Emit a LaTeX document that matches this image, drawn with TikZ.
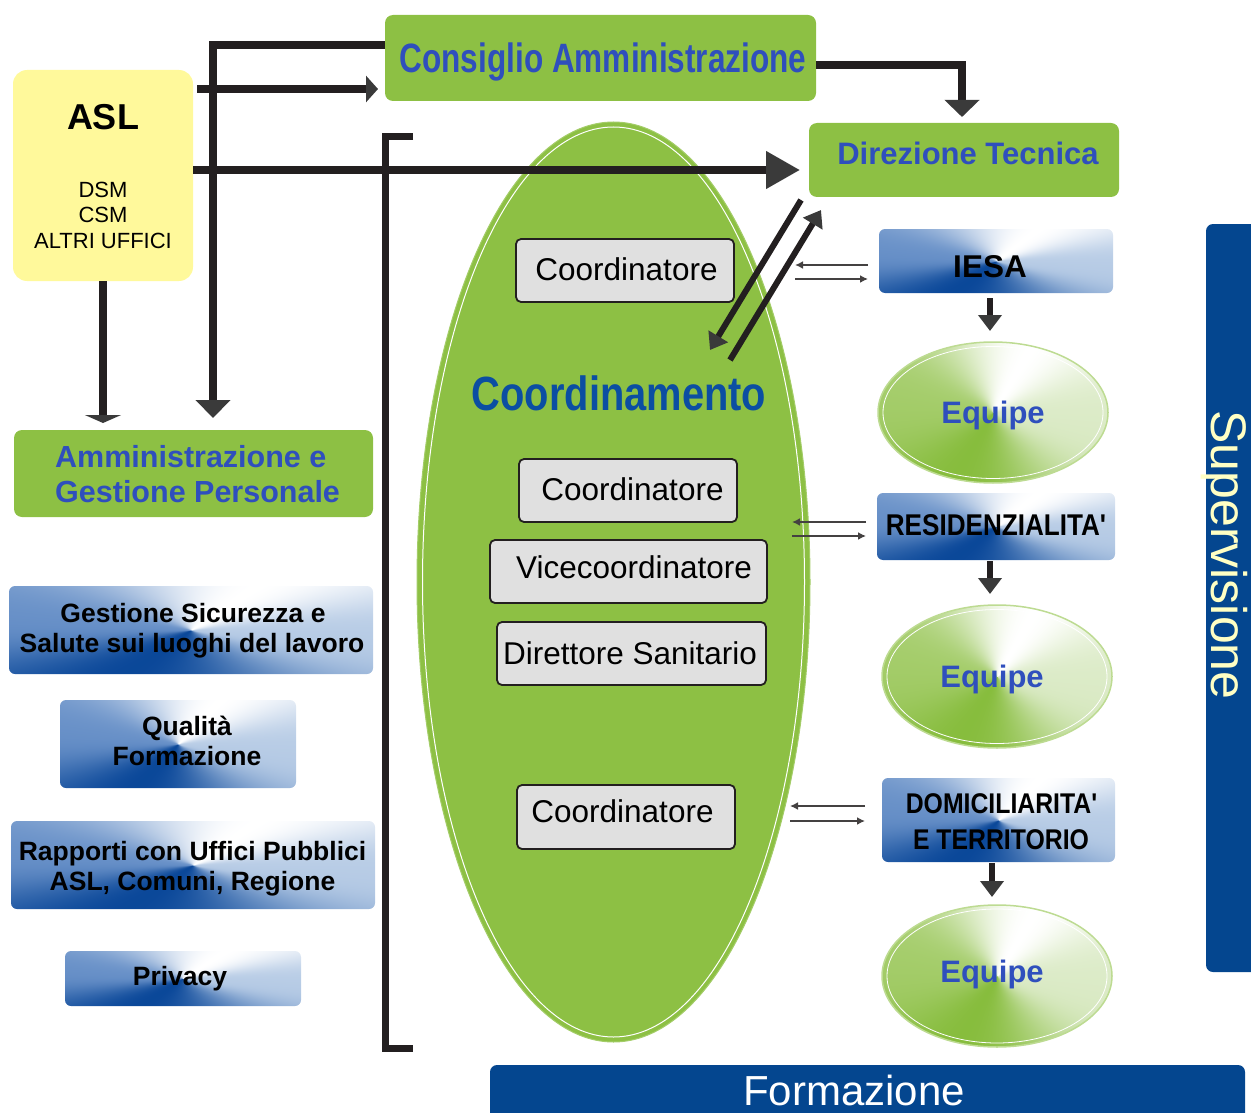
\documentclass[tikz,border=0pt]{standalone}
\usepackage{fontspec}
\setmainfont{Liberation Sans}
\usepackage{graphicx}
\usetikzlibrary{arrows.meta,shapes.geometric,calc}
\definecolor{gr}{HTML}{8DC044}
\definecolor{tb}{HTML}{2F4FBD}
\definecolor{cb}{HTML}{0B4EA2}
\definecolor{yl}{HTML}{FFF99B}
\definecolor{dk}{HTML}{231F20}
\definecolor{hd}{HTML}{3A3A3A}
\definecolor{barblue}{HTML}{04468F}
\definecolor{gb}{HTML}{E0E0E0}
\definecolor{eqA}{HTML}{A0CC64}
\definecolor{sv}{HTML}{FFFFC4}
% conic-like shadings: left-right base colour, a white lobe towards the top
% and a dark lobe towards the bottom, seen from the centre
\pgfdeclarefunctionalshading{bluecone}{\pgfpoint{-50bp}{-50bp}}{\pgfpoint{50bp}{50bp}}{}{
  2 copy dup mul exch dup mul add sqrt 0.001 add
  exch 1 index div 3 1 roll div
  1 index 0.94 mul 1 index 0.34 mul add
  dup abs 1 index add 2 div 4 exp
  exch dup abs exch sub 2 div 3 exp
  1 2 index sub 1 index sub
  3 index 0.16 mul 0.56 add 1 index mul 3 index 1.0 mul add 2 index 0.04 mul add
  4 index 0.12 mul 0.68 add 2 index mul 4 index 1.0 mul add 3 index 0.28 mul add
  5 index 0.06 mul 0.84 add 3 index mul 5 index 1.0 mul add 4 index 0.60 mul add
  8 3 roll pop pop pop pop pop
}
\pgfdeclarefunctionalshading{greencone}{\pgfpoint{-50bp}{-50bp}}{\pgfpoint{50bp}{50bp}}{}{
  2 copy dup mul exch dup mul add sqrt 0.001 add
  exch 1 index div 3 1 roll div
  1 index 0.94 mul 1 index 0.34 mul add
  dup abs 1 index add 2 div 4 exp
  exch dup abs exch sub 2 div 3 exp
  1 2 index sub 1 index sub
  3 index 0.11 mul 0.75 add 1 index mul 3 index 1.0 mul add 2 index 0.53 mul add
  4 index 0.06 mul 0.86 add 2 index mul 4 index 1.0 mul add 3 index 0.74 mul add
  5 index 0.185 mul 0.595 add 3 index mul 5 index 1.0 mul add 4 index 0.24 mul add
  8 3 roll pop pop pop pop pop
}
\newcommand\fsz[1]{\fontsize{#1pt}{#1pt}\selectfont}
\begin{document}
\begin{tikzpicture}[x=1pt,y=-1pt,
  box/.style={inner sep=0pt, outer sep=0pt, anchor=center},
  greenbox/.style={box, fill=gr, rounded corners=8pt},
  bluebox/.style={box, shade, shading=bluecone, rounded corners=6pt},
  graybox/.style={box, fill=gb, draw=dk, line width=1.8pt, rounded corners=5pt},
  eqell/.style={box, ellipse, shade, shading=greencone, draw=eqA!70, line width=1.5pt},
  lbl/.style={anchor=base, inner sep=0pt},
  blk/.style={draw=dk, line width=7.5pt},
  diag/.style={draw=dk, line width=6pt},
  thinarr/.style={draw=dk!85, line width=2.5pt, -{Latex[length=8pt,width=8pt]}},
  downarr/.style={draw=dk, line width=6pt, -{Triangle[width=23pt,length=16pt,color=hd]}},
]
\useasboundingbox (0,0) rectangle (1251,1113);

% central ellipse
\node[box, ellipse, fill=gr, draw=gr!80!white, line width=1pt, minimum width=393pt, minimum height=920pt] (cen) at (613.5,582) {};
\draw[white, line width=1pt] (cen.center) ellipse [x radius=191, y radius=455];

% bracket
\draw[dk, line width=7pt] (413,137) -- (385.5,137) -- (385.5,1048) -- (413,1048);

% boxes
\node[box, fill=yl, rounded corners=14pt, minimum width=180pt, minimum height=211pt] (asl) at (103,175.5) {};
\node[greenbox, minimum width=431pt, minimum height=86pt] (cons) at (600.5,58) {};
\node[greenbox, minimum width=310pt, minimum height=74pt] (dt) at (964,160) {};
\node[greenbox, minimum width=359pt, minimum height=87pt] (amm) at (193.5,473.5) {};
\node[bluebox, minimum width=364pt, minimum height=88pt] (ges) at (191,630) {};
\node[bluebox, minimum width=236pt, minimum height=88pt] (qua) at (178,744) {};
\node[bluebox, minimum width=364pt, minimum height=88pt] (rap) at (193,865) {};
\node[bluebox, minimum width=236pt, minimum height=55pt] (pri) at (183,978.5) {};
\node[bluebox, minimum width=234pt, minimum height=64pt] (iesa) at (996,261) {};
\node[bluebox, minimum width=238pt, minimum height=67pt] (res) at (996,526.5) {};
\node[bluebox, minimum width=233pt, minimum height=84pt] (dom) at (998.5,820) {};
\node[graybox, minimum width=218pt, minimum height=63pt] (c1) at (625,270.5) {};
\node[graybox, minimum width=218pt, minimum height=63pt] (c2) at (628,490.5) {};
\node[graybox, minimum width=277pt, minimum height=63pt] (vice) at (628.5,571.5) {};
\node[graybox, minimum width=269pt, minimum height=63pt] (dir) at (631.5,653.5) {};
\node[graybox, minimum width=218pt, minimum height=64pt] (c3) at (626,817) {};
\node[eqell, minimum width=230pt, minimum height=141pt] (eqa) at (993,412.5) {};
\node[eqell, minimum width=230pt, minimum height=143pt] (eqb) at (997,676.5) {};
\node[eqell, minimum width=230pt, minimum height=142pt] (eqc) at (997,976) {};
\draw[white, line width=0.8pt] (eqa.center) ellipse [x radius=110, y radius=66];
\draw[white, line width=0.8pt] (eqb.center) ellipse [x radius=110, y radius=67];
\draw[white, line width=0.8pt] (eqc.center) ellipse [x radius=110, y radius=67];
\node[box, fill=barblue, rounded corners=7pt, minimum width=60pt, minimum height=748pt] (sup) at (1236,598) {};
\node[box, fill=barblue, rounded corners=7pt, minimum width=755pt, minimum height=70pt] (form) at (867.5,1100) {};

% texts
\node[lbl, font=\bfseries\fsz{36}] (tasl) at (103,130) {ASL};
\node[lbl, font=\fsz{22}] (tdsm) at (103,197) {DSM};
\node[lbl, font=\fsz{22}] (tcsm) at (103,222.5) {CSM};
\node[lbl, font=\fsz{22}] (tuff) at (103,248) {ALTRI UFFICI};
\node[lbl, text=tb] (tcons) at (603,73) {\scalebox{0.77}[1]{\bfseries\fsz{41}Consiglio Amministrazione}};
\node[lbl, text=tb, font=\bfseries\fsz{31}] (tdt) at (968,165) {Direzione Tecnica};
\node[lbl, text=cb] (tcoord) at (619,410) {\scalebox{0.83}[1]{\bfseries\fsz{48}Coordinamento}};
\node[lbl, anchor=base west, text=tb, font=\bfseries\fsz{30.5}] (tamm1) at (55,467) {Amministrazione e};
\node[lbl, anchor=base west, text=tb, font=\bfseries\fsz{30.5}] (tamm2) at (55,502) {Gestione Personale};
\node[lbl, font=\bfseries\fsz{26.5}] (tges1) at (193,622) {Gestione Sicurezza e};
\node[lbl, font=\bfseries\fsz{26.5}] (tges2) at (192,652) {Salute sui luoghi del lavoro};
\node[lbl, font=\bfseries\fsz{26.5}] (tqua1) at (187,735) {Qualità};
\node[lbl, font=\bfseries\fsz{26.5}] (tqua2) at (187,765) {Formazione};
\node[lbl, font=\bfseries\fsz{26.5}] (trap1) at (192.5,860) {Rapporti con Uffici Pubblici};
\node[lbl, font=\bfseries\fsz{26.5}] (trap2) at (192.5,890) {ASL, Comuni, Regione};
\node[lbl, font=\bfseries\fsz{26.5}] (tpri) at (180,985) {Privacy};
\node[lbl, font=\bfseries\fsz{31.5}] (tiesa) at (990,277) {IESA};
\node[lbl] (tres) at (996,535) {\scalebox{0.87}[1]{\bfseries\fsz{30}RESIDENZIALITA\textquotesingle}};
\node[lbl] (tdom1) at (1001.5,813) {\scalebox{0.87}[1]{\bfseries\fsz{28.5}DOMICILIARITA\textquotesingle}};
\node[lbl] (tdom2) at (1001,849) {\scalebox{0.87}[1]{\bfseries\fsz{28.5}E TERRITORIO}};
\node[lbl, font=\fsz{31.5}] (tc1) at (626.5,280) {Coordinatore};
\node[lbl, font=\fsz{31.5}] (tc2) at (632.5,500) {Coordinatore};
\node[lbl, font=\fsz{31.5}] (tvice) at (634,578) {Vicecoordinatore};
\node[lbl, font=\fsz{31.5}] (tdir) at (630,664) {Direttore Sanitario};
\node[lbl, font=\fsz{31.5}] (tc3) at (622.5,822) {Coordinatore};
\node[lbl, text=tb, font=\bfseries\fsz{31}] (teqa) at (993,423) {Equipe};
\node[lbl, text=tb, font=\bfseries\fsz{31}] (teqb) at (992,687) {Equipe};
\node[lbl, text=tb, font=\bfseries\fsz{31}] (teqc) at (992,982) {Equipe};
\node[anchor=center, inner sep=0pt, rotate=-90, text=sv, font=\fsz{50}] (tsup) at (1224,555) {Supervisione};
\node[lbl, text=white, font=\fsz{42}] (tform) at (854,1105) {Formazione};

% connectors
\draw[blk, -{Triangle[width=26pt,length=12pt,color=hd]}] ($(asl.north east)+(4,19)$) -- ($(cons.west)+(-7,31)$);
\draw[blk, -{Triangle[width=34pt,length=18pt,color=hd]}] ($(cons.west)+(0,-13)$) -| ($(amm.north)+(19.5,-12)$);
\draw[blk, -{Triangle[width=36pt,length=34pt,color=hd]}] ($(asl.east)+(0,-5.5)$) -- ($(dt.west)+(-9,10)$);
\draw[blk, -{Triangle[width=36pt,length=8pt,color=hd]}] (asl.south) -- ($(amm.north)+(-90.5,-7)$);
\draw[blk, -{Triangle[width=34pt,length=17pt,color=hd]}] ($(cons.east)+(0,7)$) -| ($(dt.north)+(-2,-6)$);
\draw[diag, -{Triangle[width=22pt,length=16pt,color=hd]}] ($(dt.south west)+(-8,3)$) -- ($(dt.south west)+(-99,153)$);
\draw[diag, -{Triangle[width=22pt,length=16pt,color=hd]}] ($(dt.south west)+(-79,163)$) -- ($(dt.south west)+(12,13)$);
\draw[thinarr] ($(iesa.west)+(-11,4)$) -- ($(iesa.west)+(-84,4)$);
\draw[thinarr] ($(iesa.west)+(-84,18)$) -- ($(iesa.west)+(-11,18)$);
\draw[thinarr] ($(res.west)+(-11,-4.5)$) -- ($(res.west)+(-85,-4.5)$);
\draw[thinarr] ($(res.west)+(-85,9.5)$) -- ($(res.west)+(-11,9.5)$);
\draw[thinarr] ($(dom.west)+(-17,-14)$) -- ($(dom.west)+(-92,-14)$);
\draw[thinarr] ($(dom.west)+(-92,1)$) -- ($(dom.west)+(-17,1)$);
\draw[downarr] ($(iesa.south)+(-6,5)$) -- ($(eqa.north)+(-3,-11)$);
\draw[downarr] ($(res.south)+(-6,1)$) -- ($(eqb.north)+(-7,-11)$);
\draw[downarr] ($(dom.south)+(-6.5,1)$) -- ($(eqc.north)+(-5,-8)$);
\end{tikzpicture}
\end{document}
